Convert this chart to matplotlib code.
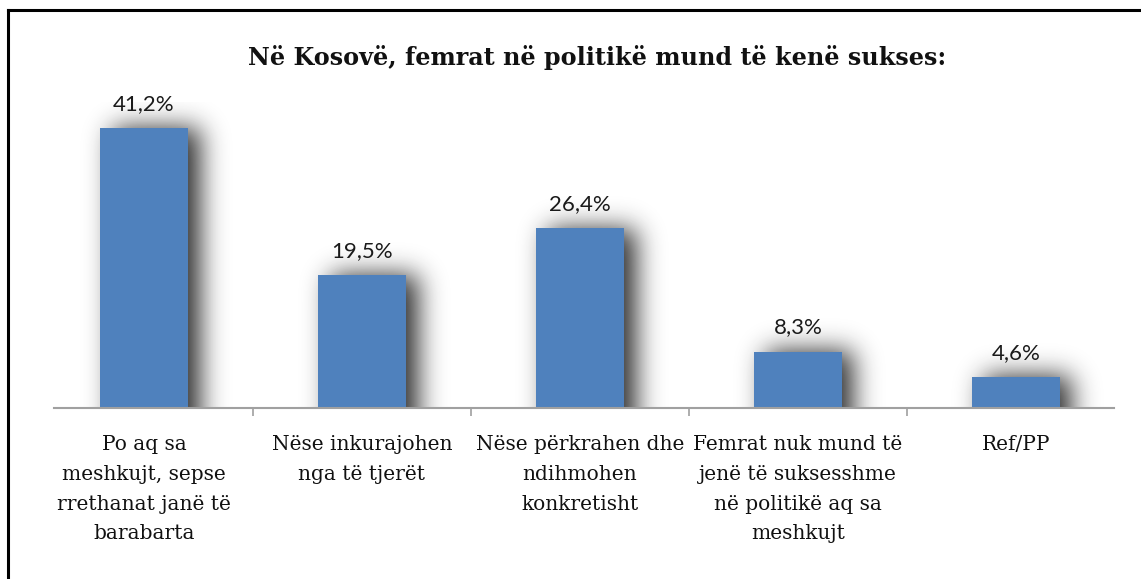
import numpy as np
import matplotlib
matplotlib.use("Agg")
import matplotlib.pyplot as plt
from matplotlib.lines import Line2D

title = "Në Kosovë, femrat në politikë mund të kenë sukses:"
categories = [
    "Po aq sa\nmeshkujt, sepse\nrrethanat janë të\nbarabarta",
    "Nëse inkurajohen\nnga të tjerët",
    "Nëse përkrahen dhe\nndihmohen\nkonkretisht",
    "Femrat nuk mund të\njenë të suksesshme\nnë politikë aq sa\nmeshkujt",
    "Ref/PP",
]
values = [41.2, 19.5, 26.4, 8.3, 4.6]
value_labels = ["41,2%", "19,5%", "26,4%", "8,3%", "4,6%"]

W, H, DPI = 1141, 579, 100
fig = plt.figure(figsize=(W / DPI, H / DPI), dpi=DPI)
fig.patch.set_facecolor("white")

# axes placement in pixels
ax_left, ax_right = 35, 1125
ax_bottom_px, ax_top_px = 408, 102
ax = fig.add_axes([ax_left / W, 1 - ax_bottom_px / H,
                   (ax_right - ax_left) / W, (ax_bottom_px - ax_top_px) / H])
ymax = 45
ax.set_xlim(-0.5, len(values) - 0.5)
ax.set_ylim(0, ymax)

bar_w = 0.4
bar_color = "#4f81bd"

# soft shadow built from the bar geometry
px_x = (ax_right - ax_left) / len(values)      # pixels per x unit
px_y = (ax_bottom_px - ax_top_px) / ymax        # pixels per y unit
gw, gh = ax_right - ax_left, ax_bottom_px - ax_top_px
pad = 60
xs = np.linspace(-0.5, len(values) - 0.5, gw)
ys = np.linspace(ymax + pad / px_y, -pad / px_y, gh + 2 * pad)
X, Y = np.meshgrid(xs, ys)
mask = np.zeros_like(X)
dx = 12 / px_x
for i, v in enumerate(values):
    m = (X >= i - bar_w / 2 + dx) & (X <= i + bar_w / 2 + dx) & (Y <= v)
    mask[m] = 1.0

def gblur(a, sigma):
    r = int(3 * sigma)
    k = np.exp(-0.5 * (np.arange(-r, r + 1) / sigma) ** 2)
    k /= k.sum()
    a = np.apply_along_axis(lambda row: np.convolve(row, k, mode="same"), 1, a)
    a = np.apply_along_axis(lambda col: np.convolve(col, k, mode="same"), 0, a)
    return a

blur = gblur(mask, 13)[pad:pad + gh, :]
rgba = np.zeros((gh, gw, 4))
rgba[..., :3] = 0.1
rgba[..., 3] = np.clip(blur * 0.92, 0, 1)
ax.imshow(rgba, extent=(-0.5, len(values) - 0.5, 0, ymax), aspect="auto",
          zorder=1, interpolation="bilinear")

x = np.arange(len(values))
ax.bar(x, values, width=bar_w, color=bar_color, zorder=2)

for xi, v, lab in zip(x, values, value_labels):
    ax.annotate(lab, (xi, v), xytext=(0, 24), textcoords="offset pixels",
                ha="center", va="center", fontsize=16, family="Lato",
                color="#1a1a1a")

for s in ["top", "right", "left"]:
    ax.spines[s].set_visible(False)
ax.spines["bottom"].set_color("#a0a0a0")
ax.spines["bottom"].set_linewidth(1.5)
ax.spines["bottom"].set_bounds(-0.5 + 19 / px_x, len(values) - 0.5 - 11 / px_x)
ax.set_yticks([])
ax.set_xticks(np.arange(len(values) - 1) + 0.5)
ax.set_xticklabels([])
ax.tick_params(axis="x", length=6, color="#a0a0a0", width=1.2)

for xi, cat in zip(x, categories):
    ax.annotate(cat, (xi, 0), xytext=(0, -27), textcoords="offset pixels",
                ha="center", va="top", fontsize=14.5, family="DejaVu Serif",
                linespacing=1.72, color="#111111")

fig.text(597 / W, 1 - 58 / H, title, ha="center", va="center",
         fontsize=17.2, fontweight="bold", family="DejaVu Serif", color="#111111")

# frame lines (top and left)
fig.add_artist(Line2D([7.5 / W, 1], [1 - 10 / H, 1 - 10 / H], color="black", lw=2.2))
fig.add_artist(Line2D([7.5 / W, 7.5 / W], [0, 1 - 10 / H], color="black", lw=2.2))

fig.savefig("out.png", dpi=DPI, facecolor="white")
